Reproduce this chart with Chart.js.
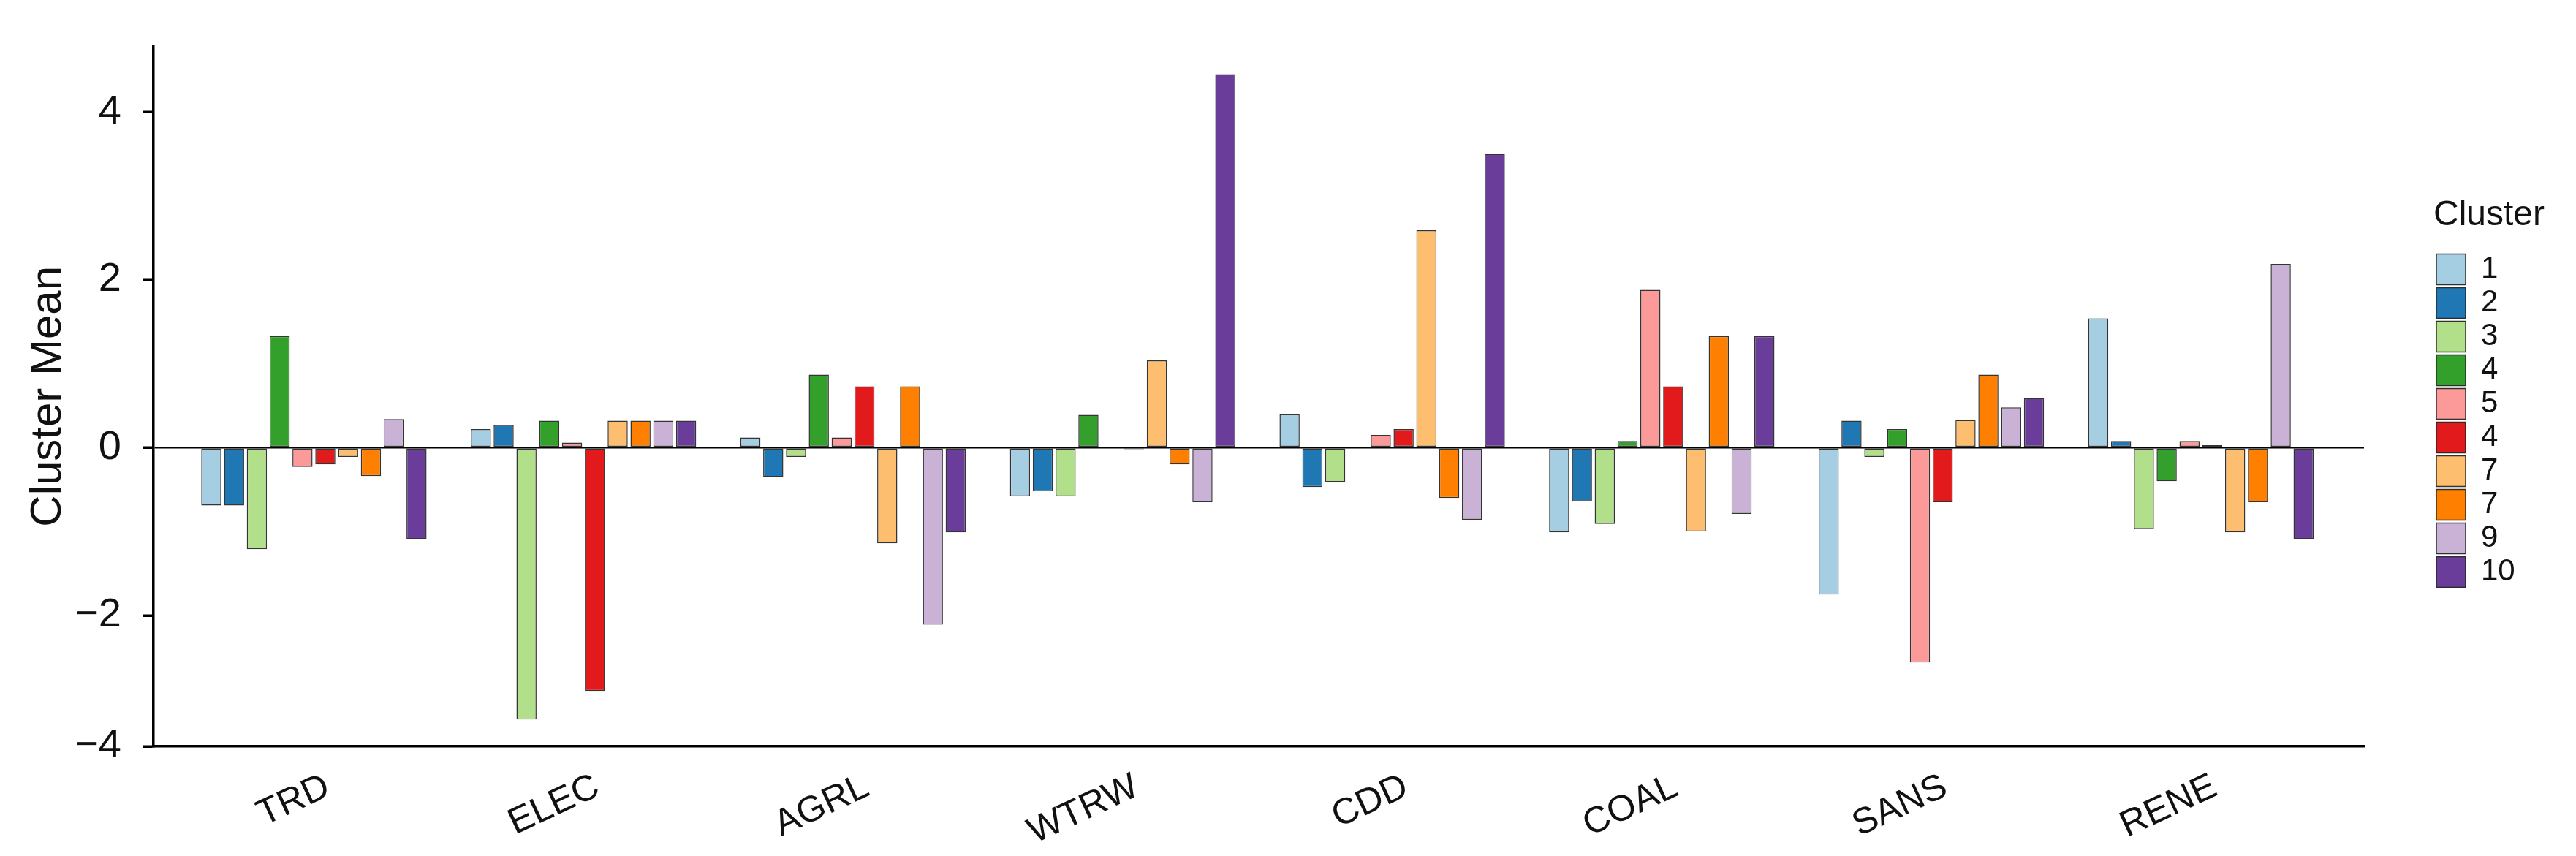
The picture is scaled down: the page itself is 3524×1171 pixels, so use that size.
<!DOCTYPE html>
<html>
<head>
<meta charset="utf-8">
<script src="https://cdn.jsdelivr.net/npm/chart.js@4.4.1/dist/chart.umd.min.js"></script>
<style>
  html, body { margin: 0; padding: 0; background: #ffffff; }
  #wrap { width: 3524px; height: 1171px; }
</style>
</head>
<body>
<div id="wrap"><canvas id="clusterChart" width="3524" height="1171"></canvas></div>
<script>
// ===== DATA =====
const categories = ['TRD', 'ELEC', 'AGRL', 'WTRW', 'CDD', 'COAL', 'SANS', 'RENE'];
// legend labels exactly as printed in the figure
const clusterLabels = ['1', '2', '3', '4', '5', '4', '7', '7', '9', '10'];
const clusterColors = ['#a6cee3', '#1f78b4', '#b2df8a', '#33a02c', '#fb9a99',
                       '#e31a1c', '#fdbf6f', '#ff7f00', '#cab2d6', '#6a3d9a'];

// one array per cluster, values in category order
const cluster1  = [-0.69,  0.22,  0.12, -0.58,  0.40, -1.01, -1.75,  1.54];
const cluster2  = [-0.69,  0.27, -0.35, -0.52, -0.47, -0.64,  0.32,  0.08];
const cluster3  = [-1.21, -3.24, -0.11, -0.58, -0.41, -0.91, -0.11, -0.97];
const cluster4  = [ 1.33,  0.32,  0.87,  0.39,  0.01,  0.08,  0.22, -0.40];
const cluster5  = [-0.23,  0.06,  0.12,  0.00,  0.15,  1.88, -2.56,  0.08];
const cluster6  = [-0.20, -2.90,  0.73, -0.02,  0.22,  0.73, -0.65,  0.03];
const cluster7  = [-0.11,  0.32, -1.14,  1.04,  2.59, -1.00,  0.33, -1.01];
const cluster8  = [-0.34,  0.32,  0.73, -0.20, -0.60,  1.33,  0.87, -0.65];
const cluster9  = [ 0.34,  0.32, -2.11, -0.65, -0.86, -0.79,  0.48,  2.19];
const cluster10 = [-1.09,  0.32, -1.01,  4.45,  3.50,  1.33,  0.59, -1.09];
const clusterValues = [cluster1, cluster2, cluster3, cluster4, cluster5,
                       cluster6, cluster7, cluster8, cluster9, cluster10];

// y axis: the printed "-4" sits on the bottom of the axis
const Y_MIN = -3.56;
const Y_MAX = 4.78;
const yTickValues = [Y_MIN, -2, 0, 2, 4];
const yTickLabels = ['\u22124', '\u22122', '0', '2', '4'];

// ===== STYLE =====
const FONT = "'Liberation Sans', Arial, Helvetica, sans-serif";
const X_PAD = 0.1;          // extra room at both ends of the category axis
const LEGEND_WIDTH = 195;   // room for the "Cluster" title

const datasets = clusterValues.map((vals, i) => ({
    label: clusterLabels[i],
    data: vals,
    backgroundColor: clusterColors[i],
    borderColor: 'rgba(30,30,30,0.9)',
    borderWidth: 1.5,
    borderSkipped: false,
    categoryPercentage: 0.846,
    barPercentage: 0.88
}));

// legend box wide enough for its title (the legend clips to its own box)
const legendWidthPlugin = {
    id: 'legendWidth',
    afterInit(chart) {
        const legend = chart.legend;
        const baseFit = legend.fit;
        legend.fit = function () {
            baseFit.call(this);
            this.width = LEGEND_WIDTH;
        };
    }
};

new Chart(document.getElementById('clusterChart'), {
    type: 'bar',
    data: { labels: categories, datasets: datasets },
    plugins: [legendWidthPlugin],
    options: {
        responsive: false,
        devicePixelRatio: 1,
        animation: false,
        layout: { padding: { left: 0, top: 37, right: 0, bottom: 0 } },
        plugins: {
            tooltip: { enabled: false },
            legend: {
                position: 'right',
                align: 'start',
                title: {
                    display: true,
                    text: 'Cluster',
                    position: 'start',
                    color: '#111',
                    font: { family: FONT, size: 48 },
                    padding: { top: 234, bottom: 15 }
                },
                labels: {
                    boxWidth: 40,
                    boxHeight: 42,
                    padding: 4,
                    color: '#111',
                    font: { family: FONT, size: 42 }
                }
            }
        },
        scales: {
            x: {
                grid: { display: false, drawTicks: false },
                border: { display: true, color: '#000', width: 3.5 },
                ticks: {
                    color: '#111',
                    font: { family: FONT, size: 50 },
                    minRotation: 25,
                    maxRotation: 25,
                    padding: 26,
                    labelOffset: 19
                },
                afterBuildTicks: (scale) => {
                    scale._startValue -= X_PAD * 0.95;
                    scale._valueRange += X_PAD * 2;
                },
                afterFit: (scale) => { scale.height = 150; }
            },
            y: {
                min: Y_MIN,
                max: Y_MAX,
                afterBuildTicks: (scale) => {
                    scale.ticks = yTickValues.map(v => ({ value: v }));
                },
                afterFit: (scale) => { scale.width = 210; },
                ticks: {
                    color: '#111',
                    font: { family: FONT, size: 56 },
                    padding: 30,
                    callback: (value, index) => yTickLabels[index]
                },
                grid: {
                    drawOnChartArea: true,
                    color: (c) => (c.tick && c.tick.value === 0) ? '#000' : 'rgba(0,0,0,0)',
                    lineWidth: 2.5,
                    tickLength: 14,
                    tickWidth: 3.5,
                    tickColor: '#000'
                },
                border: { display: true, color: '#000', width: 3.5 },
                title: {
                    display: true,
                    text: 'Cluster Mean',
                    color: '#111',
                    font: { family: FONT, size: 60 },
                    padding: { top: 30, bottom: 0 }
                }
            },
            // empty spacer between the plot and the legend
            spacer: {
                type: 'linear',
                position: 'right',
                display: true,
                grid: { display: false },
                border: { display: false },
                ticks: { display: false },
                afterFit: (scale) => { scale.width = 95; }
            }
        }
    }
});
</script>
</body>
</html>
